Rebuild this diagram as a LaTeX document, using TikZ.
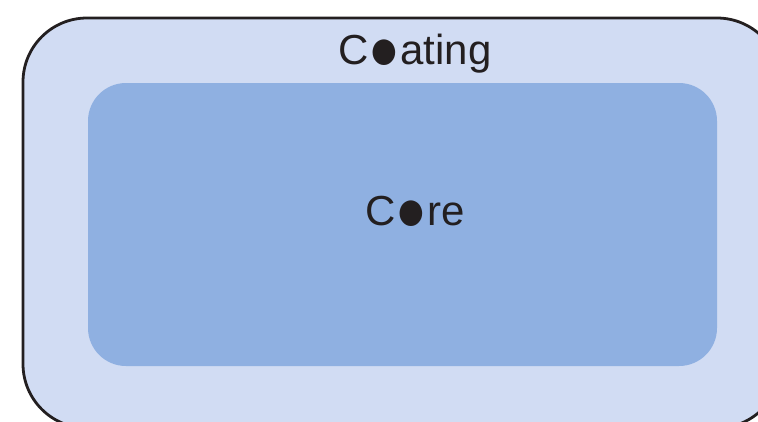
\documentclass[tikz,border=0pt]{standalone}
\usepackage{fontspec}
\setmainfont{Liberation Sans}
\definecolor{coatfill}{HTML}{D1DCF3}
\definecolor{corefill}{HTML}{8FB0E1}
\definecolor{edge}{HTML}{231F20}
\newcommand{\bigdot}{\raisebox{-5.5pt}{\scalebox{1.25}[1.42]{●}}}
\tikzset{
  coatbox/.style={fill=coatfill, draw=edge, line width=2.8pt, rounded corners=64pt},
  corebox/.style={fill=corefill, rounded corners=38pt},
  lbl/.style={text=edge, font=\fontsize{42}{50}\selectfont, inner sep=0pt, anchor=base}
}
\begin{document}
\begin{tikzpicture}[x=1pt,y=-1pt]
\useasboundingbox (0,0) rectangle (758,421);
\clip (0,0) rectangle (758,421);
\draw[coatbox] (23,18) rectangle (781,428);
\fill[corebox] (88,83) rectangle (717,366);
\node[lbl] (coating) at (415,64) {C\bigdot ating};
\node[lbl] (core) at (415,225) {C\bigdot re};
\end{tikzpicture}
\end{document}
